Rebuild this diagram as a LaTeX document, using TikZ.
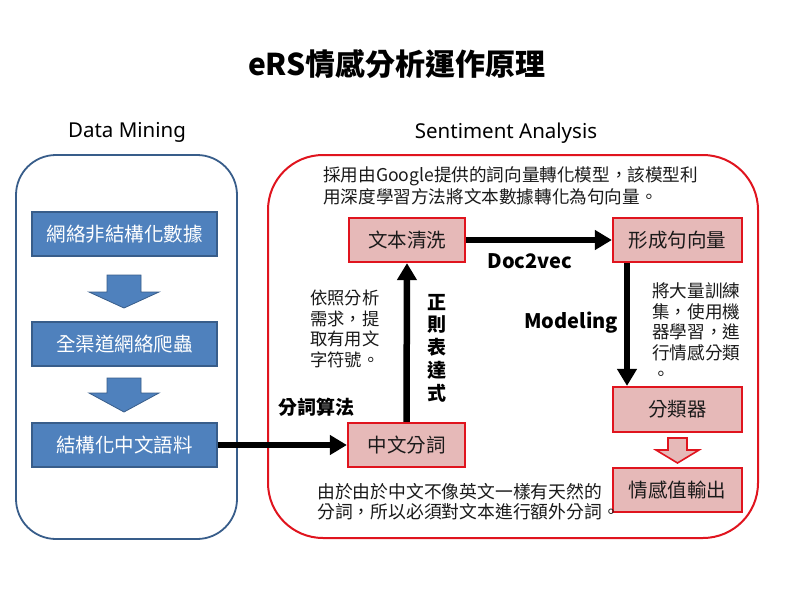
\documentclass[tikz,border=0pt]{standalone}
\usepackage{fontspec}
\setmainfont{Noto Sans CJK TC}
\newfontfamily\latin{Noto Sans}
\usetikzlibrary{arrows.meta}
\definecolor{bfill}{HTML}{4F81BD}
\definecolor{bline}{HTML}{385D8A}
\definecolor{rline}{HTML}{E0141E}
\definecolor{pfill}{HTML}{E6B9B8}
\definecolor{txt}{HTML}{1A1A1A}
\tikzset{
  bluebox/.style={draw=bline,fill=bfill,line width=1.2pt,minimum width=185pt,minimum height=44pt,inner sep=0pt,text=white,font=\fontsize{19.5}{23}\selectfont},
  pinkbox/.style={draw=rline,fill=pfill,line width=2.2pt,minimum height=44pt,inner sep=0pt,text=txt,font=\fontsize{19.5}{23}\selectfont},
  arr/.style={line width=6.5pt,-{Triangle[length=17pt,width=19pt]}},
  para/.style={text=txt,inner sep=0pt,align=left},
  heading/.style={inner sep=0pt,font=\latin\fontsize{20.5}{24}\selectfont},
  lbl/.style={inner sep=0pt,font=\bfseries\fontsize{19}{23}\selectfont},
  latlbl/.style={inner sep=0pt,font=\bfseries\fontsize{20}{24}\selectfont},
}
\begin{document}
\begin{tikzpicture}[x=1pt,y=-1pt]
\useasboundingbox[fill=white] (0,0) rectangle (800,600);
% title
\node[inner sep=0pt,font=\bfseries\fontsize{30}{34}\selectfont] (title) at (397,64) {eRS情感分析運作原理};
\node[heading] (hdm) at (127,132) {Data Mining};
\node[heading] (hsa) at (506,133) {Sentiment Analysis};
% frames
\draw[bline,line width=1.8pt,rounded corners=40pt] (16,155) rectangle (237,539);
\draw[rline,line width=2pt,rounded corners=55pt] (268,155) rectangle (758,538);
% blue boxes
\node[bluebox] (b1) at (124.5,234) {網絡非結構化數據};
\node[bluebox] (b2) at (124.5,344) {全渠道網絡爬蟲};
\node[bluebox] (b3) at (124.5,445) {結構化中文語料};
% blue block arrows
\draw[bline,fill=bfill,line width=0.8pt] (107,275) -- (141,275) -- (141,292) -- (159,292) -- (124,308) -- (89,292) -- (107,292) -- cycle;
\draw[bline,fill=bfill,line width=0.8pt] (107,378) -- (141,378) -- (141,393) -- (159,393) -- (124,412) -- (89,393) -- (107,393) -- cycle;
% pink boxes
\node[pinkbox,minimum width=116pt] (c1) at (407,240) {文本清洗};
\node[pinkbox,minimum width=129pt] (c2) at (677.5,240) {形成句向量};
\node[pinkbox,minimum width=117pt] (c3) at (406.5,445) {中文分詞};
\node[pinkbox,minimum width=129pt,minimum height=45pt] (c4) at (677.5,409.5) {分類器};
\node[pinkbox,minimum width=129pt] (c5) at (677.5,490) {情感值輸出};
% connectors
\draw[arr] (b3.east) -- (c3.west);
\draw[arr] (c3.north) -- (c1.south);
\draw[arr] (c1.east) -- (c2.west);
\draw[arr] ([xshift=-50.5pt]c2.south) -- ([xshift=-50.5pt]c4.north);
% hollow red arrow
\draw[rline,fill=pfill,line width=1.6pt] (668,438) -- (687,438) -- (687,450) -- (699,450) -- (677.5,463) -- (656,450) -- (668,450) -- cycle;
% labels
\node[lbl] (l1) at (316.5,407) {分詞算法};
\node[lbl,align=center,font=\bfseries\fontsize{19}{22.75}\selectfont] (l2) at (437,348) {正\\則\\表\\達\\式};
\node[latlbl] (l3) at (530,261) {Doc2vec};
\node[latlbl] (l4) at (571,323) {Modeling};
% paragraphs
\node[para,anchor=west,font=\fontsize{17.6}{22}\selectfont] (p1) at (323,186) {採用由Google提供的詞向量轉化模型，該模型利\\用深度學習方法將文本數據轉化為句向量。};
\node[para,anchor=west,font=\fontsize{17.3}{20.7}\selectfont] (p2) at (310,329) {依照分析\\需求，提\\取有用文\\字符號。};
\node[para,anchor=west,font=\fontsize{17.6}{20.75}\selectfont] (p3) at (652,331.5) {將大量訓練\\集，使用機\\器學習，進\\行情感分類\\。};
\node[para,anchor=west,font=\fontsize{17.8}{20}\selectfont] (p4) at (317,502) {由於由於中文不像英文一樣有天然的\\分詞，所以必須對文本進行額外分詞。};
\end{tikzpicture}
\end{document}
